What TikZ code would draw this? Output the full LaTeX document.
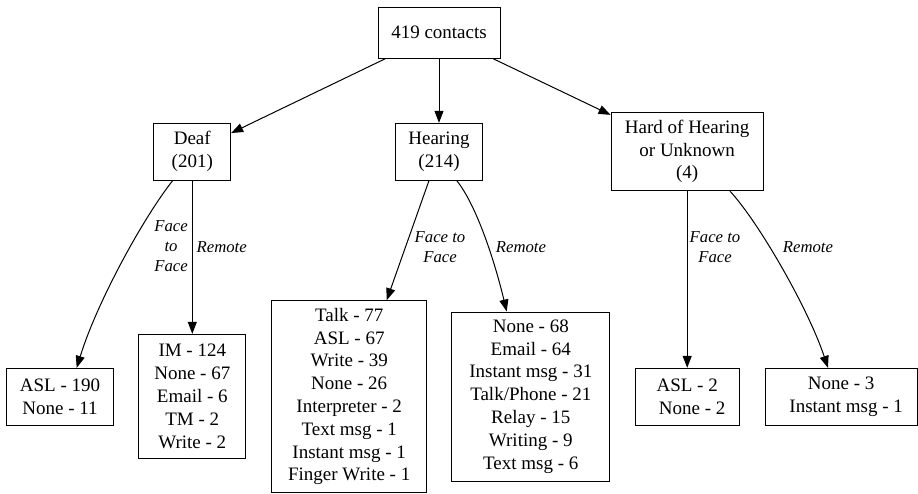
\documentclass[tikz,border=0pt]{standalone}
\usepackage{fontspec}
\setmainfont{LiberationSerif-Regular.ttf}[ItalicFont=LiberationSerif-Italic.ttf]
\usetikzlibrary{arrows.meta}
\begin{document}
\begin{tikzpicture}[x=1pt,y=-1pt,
 box/.style={draw,line width=1pt,inner sep=0pt,align=center,font=\rmfamily\fontsize{19}{22.8}\selectfont},
 elabel/.style={inner sep=0pt,align=center,font=\rmfamily\fontsize{16.7}{20}\selectfont\itshape},
 edge/.style={line width=1pt,-{Triangle[length=12pt,width=9pt]}}]
\useasboundingbox (0,0) rectangle (918,493);
\node[box,minimum width=122pt,minimum height=51pt] (root) at (439,32.8) {419 contacts};
\node[box,minimum width=76.7pt,minimum height=56.7pt] (deaf) at (192.3,151.7) {Deaf\\(201)};
\node[box,minimum width=87.4pt,minimum height=56.7pt] (hear) at (439,151.7) {Hearing\\(214)};
\node[box,minimum width=152.3pt,minimum height=78.4pt] (hoh) at (687.2,151.5) {Hard of Hearing\\or Unknown\\(4)};
\node[box,minimum width=107.4pt,minimum height=56.7pt] (dff) at (60,396.7) {ASL - 190\\None - 11};
\node[box,minimum width=107.3pt,minimum height=124pt] (drem) at (192.3,396.3) {IM - 124\\None - 67\\Email - 6\\TM - 2\\Write - 2};
\node[box,minimum width=155pt,minimum height=191.6pt] (hff) at (349.2,396.5) {Talk - 77\\ASL - 67\\Write - 39\\None - 26\\Interpreter - 2\\Text msg - 1\\Instant msg - 1\\Finger Write - 1};
\node[box,minimum width=158.3pt,minimum height=169pt] (hrem) at (530.8,396.5) {None - 68\\Email - 64\\Instant msg - 31\\Talk/Phone - 21\\Relay - 15\\Writing - 9\\Text msg - 6};
\node[box,minimum width=104.3pt,minimum height=56.7pt] (hohff) at (687.2,396.7) {ASL - 2\\\hspace*{10pt}None - 2};
\node[box,minimum width=152.3pt,minimum height=56.7pt] (hohrem) at (841.2,396.7) {None - 3\\\hspace*{10pt}Instant msg - 1};

\draw[edge] (root) -- (deaf);
\draw[edge] (root) -- (hear);
\draw[edge] (root) -- (hoh);
\draw[edge] ([xshift=-19.6pt]deaf.south) .. controls +(-30,38) and +(20,-65) .. ([xshift=16.7pt]dff.north);
\draw[edge] (deaf) -- (drem);
\draw[edge] ([xshift=-10pt]hear.south) -- ([xshift=37.5pt]hff.north);
\draw[edge] ([xshift=17.7pt]hear.south) .. controls +(20,25) and +(-12,-50) .. ([xshift=-24.1pt]hrem.north);
\draw[edge] (hoh) -- (hohff);
\draw[edge] ([xshift=42.8pt]hoh.south) .. controls +(28,30) and +(-20,-60) .. ([xshift=-13.2pt]hohrem.north);

\node[elabel] (l1) at (171,246.5) {Face\\to\\Face};
\node[elabel] (l2) at (221.7,246.7) {Remote};
\node[elabel] (l3) at (440,247.3) {Face to\\Face};
\node[elabel] (l4) at (521,246.7) {Remote};
\node[elabel] (l5) at (715,247.3) {Face to\\Face};
\node[elabel] (l6) at (808,246.7) {Remote};
\end{tikzpicture}
\end{document}
